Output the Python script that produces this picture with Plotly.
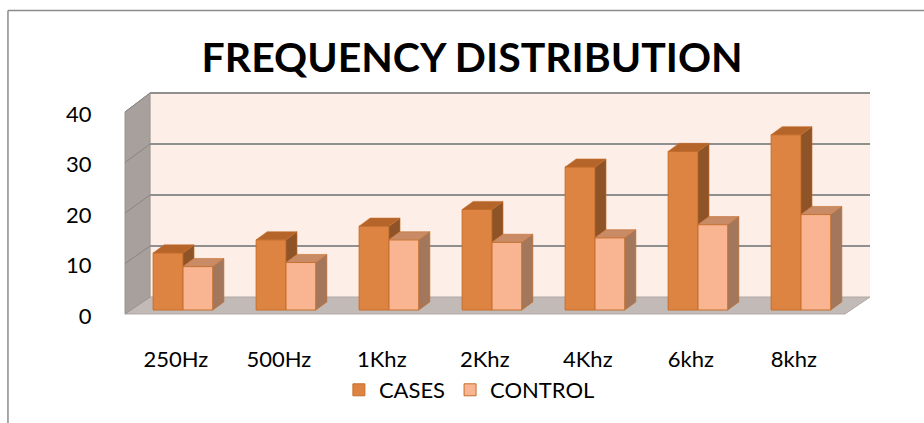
import plotly.graph_objects as go

# ---- data ----
categories = ["250Hz", "500Hz", "1Khz", "2Khz", "4Khz", "6khz", "8khz"]
cases = [11.3, 13.9, 16.6, 19.9, 28.3, 31.4, 34.7]
control = [8.6, 9.4, 13.9, 13.4, 14.3, 16.9, 18.9]
y_ticks = [0, 10, 20, 30, 40]

# ---- styling / geometry constants ----
FONT = "Lato"
C_FRONT, C_TOP, C_SIDE = "#DE8442", "#B5642A", "#8E5326"
K_FRONT, K_TOP, K_SIDE = "#F9B591", "#C98A66", "#A3775B"
EDGE = "#C66E2C"
BW = 0.29           # bar width (x units)
DX, DY = 0.107, 1.6  # bar depth offsets
X_RANGE = [-0.806, 6.767]
Y_RANGE = [-2.97, 44.55]
FRONT_SHIFT = 1.19  # front-plane label axis offset
LABEL_SHIFT = -0.07
# room geometry (x units / value units)
XF0, XF1, XB0, XB1 = -0.563, 6.427, -0.320, 6.670
VF0, VB0 = -0.79, 2.57
BACK_SCALE = 1.01

idx = list(range(len(categories)))

fig = go.Figure()

# front faces as bars
fig.add_trace(go.Bar(x=idx, y=cases, name="CASES", marker=dict(color=C_FRONT, line=dict(color=EDGE, width=1))))
fig.add_trace(go.Bar(x=idx, y=control, name="CONTROL", marker=dict(color=K_FRONT, line=dict(color=EDGE, width=1))))


def polys(points_list):
    xs, ys = [], []
    for pts in points_list:
        for (a, b) in pts:
            xs.append(a)
            ys.append(b)
        xs.append(pts[0][0]); ys.append(pts[0][1])
        xs.append(None); ys.append(None)
    return xs, ys


# CASES visible side strip (above CONTROL) and top
cs_side, cs_top, ct_side, ct_top = [], [], [], []
for i, vc, vk in zip(idx, cases, control):
    if vc > vk:
        cs_side.append([(i, vk), (i + DX, vk + DY), (i + DX, vc + DY), (i, vc)])
    cs_top.append([(i - BW, vc), (i, vc), (i + DX, vc + DY), (i - BW + DX, vc + DY)])
    ct_side.append([(i + BW, 0), (i + BW + DX, DY), (i + BW + DX, vk + DY), (i + BW, vk)])
    ct_top.append([(i, vk), (i + BW, vk), (i + BW + DX, vk + DY), (i + DX, vk + DY)])

for pl, col in [(cs_side, C_SIDE), (cs_top, C_TOP), (ct_side, K_SIDE), (ct_top, K_TOP)]:
    xs, ys = polys(pl)
    fig.add_trace(go.Scatter(x=xs, y=ys, mode="lines", fill="toself", fillcolor=col,
                             line=dict(color=EDGE, width=0.6), showlegend=False, hoverinfo="skip"))

# dummy trace for front-plane value axis
fig.add_trace(go.Scatter(x=[None], y=[None], yaxis="y2", showlegend=False, hoverinfo="skip"))

shapes = []
# back wall
shapes.append(dict(type="rect", xref="x", yref="y", x0=XB0, x1=XB1, y0=VB0, y1=VB0 + 40 * BACK_SCALE,
                   fillcolor="#FDEEE7", line=dict(width=0), layer="below"))
# floor
shapes.append(dict(type="path", xref="x", yref="y",
                   path=f"M {XF0},{VF0} L {XF1},{VF0} L {XB1},{VB0} L {XB0},{VB0} Z",
                   fillcolor="#C2BAB7", line=dict(color="#B0A8A5", width=1), layer="below"))
# left side wall
shapes.append(dict(type="path", xref="x", yref="y",
                   path=f"M {XF0},{VF0} L {XB0},{VB0} L {XB0},{VB0 + 40 * BACK_SCALE} L {XF0},{VF0 + 40} Z",
                   fillcolor="#A7A09C", line=dict(color="#9A9491", width=1), layer="below"))
# gridlines
for k in y_ticks[1:]:
    vb = VB0 + k * BACK_SCALE
    shapes.append(dict(type="line", xref="x", yref="y", x0=XB0, x1=XB1, y0=vb, y1=vb,
                       line=dict(color="#8F8F8F", width=2), layer="below"))
    shapes.append(dict(type="line", xref="x", yref="y", x0=XF0, x1=XB0, y0=VF0 + k, y1=vb,
                       line=dict(color="#8A8482", width=1), layer="below"))
# chart border (left & top)
shapes.append(dict(type="line", xref="paper", yref="paper", x0=-0.118, x1=-0.118, y0=-0.42, y1=1.3104,
                   line=dict(color="#8C8C8C", width=1.5)))
shapes.append(dict(type="line", xref="paper", yref="paper", x0=-0.118, x1=1.06, y0=1.3104, y1=1.3104,
                   line=dict(color="#8C8C8C", width=1.5)))

fig.update_layout(
    template="none",
    width=924, height=423,
    margin=dict(l=100, r=44, t=85, b=98, pad=0, autoexpand=False),
    paper_bgcolor="white", plot_bgcolor="white",
    barmode="group", bargap=1 - 2 * BW, bargroupgap=0,
    shapes=shapes,
    font=dict(family=FONT, size=22, color="black"),
    title=dict(text="<b>FREQUENCY DISTRIBUTION</b>", font=dict(family=FONT, size=41, color="black"),
               x=0.511, xref="container", xanchor="center", y=1 - 58 / 423, yref="container", yanchor="middle"),
    xaxis=dict(range=X_RANGE, tickvals=[i + LABEL_SHIFT for i in idx], ticktext=categories,
               showgrid=False, zeroline=False, showline=False, ticks="outside", ticklen=15,
               tickcolor="rgba(0,0,0,0)", tickfont=dict(size=22), automargin=False),
    yaxis=dict(range=Y_RANGE, visible=False, showgrid=False, zeroline=False, automargin=False),
    yaxis2=dict(range=[Y_RANGE[0] + FRONT_SHIFT, Y_RANGE[1] + FRONT_SHIFT], overlaying="y", side="left",
                tickvals=y_ticks, showgrid=False, zeroline=False, showline=False,
                tickfont=dict(size=22), ticks="outside", ticklen=3, tickcolor="rgba(0,0,0,0)",
                automargin=False),
    legend=dict(orientation="h", xref="container", yref="container", x=0.508, xanchor="center",
                y=1 - 390 / 423, yanchor="middle", font=dict(size=22), itemwidth=30, traceorder="normal",
                bgcolor="rgba(0,0,0,0)"),
    showlegend=True,
)

fig.write_html("out.html", config={"displayModeBar": False},
               post_script="document.body.style.margin='0px';document.body.style.overflow='hidden';")
